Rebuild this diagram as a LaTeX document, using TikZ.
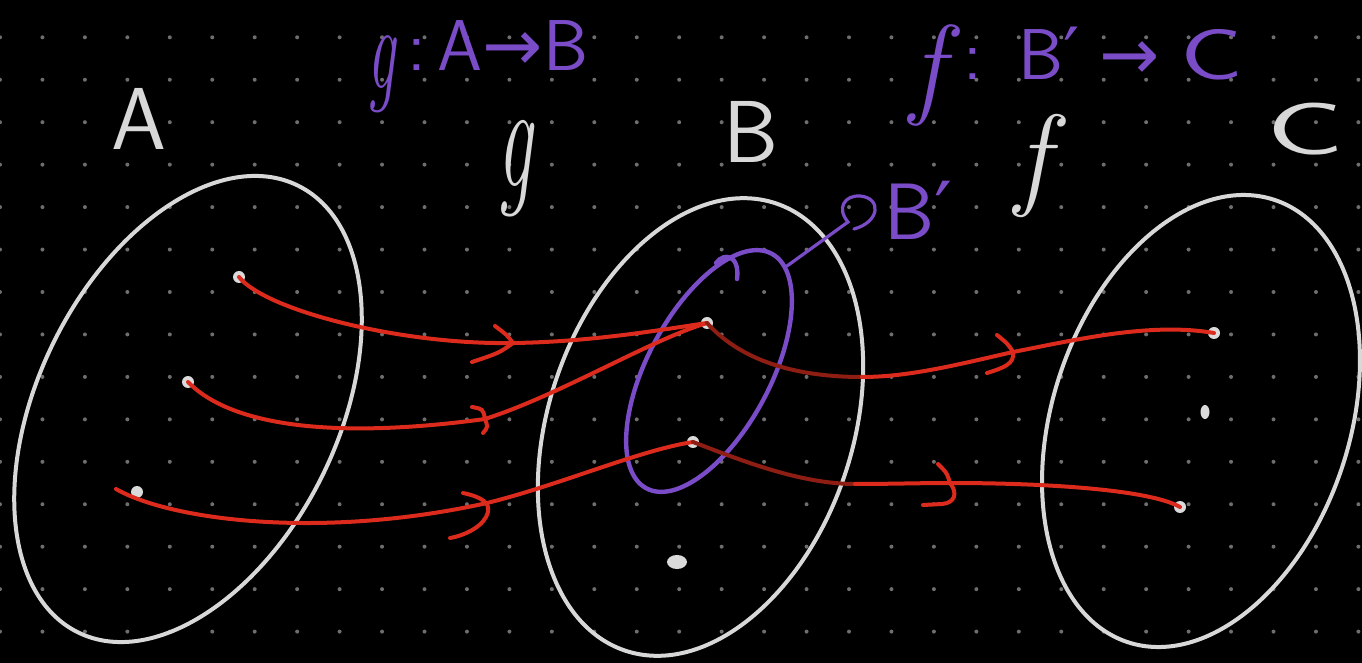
\documentclass[tikz,border=0pt]{standalone}
\usepackage{fontspec}
\usepackage{graphicx}
\newfontfamily\djv{DejaVu Sans}
\usetikzlibrary{shapes.geometric}
\definecolor{chalk}{HTML}{D8D8D8}
\definecolor{gridgray}{HTML}{6E6E6E}
\definecolor{inkred}{HTML}{DC2B1D}
\definecolor{darkred}{HTML}{8E1D13}
\definecolor{inkpurple}{HTML}{7B4CC8}
\definecolor{dotwhite}{HTML}{DADADA}
\begin{document}
\begin{tikzpicture}[x=0.5pt,y=-0.5pt,
  chalkline/.style={draw=chalk,line width=2pt},
  redline/.style={draw=inkred,line width=2pt,line cap=round,line join=round},
  darkline/.style={draw=darkred,line width=2pt,line cap=round},
  purpleline/.style={draw=inkpurple,line width=2.2pt,line cap=round},
  dot/.style={circle,fill=dotwhite,inner sep=0pt,minimum size=6pt},
  bigdot/.style={ellipse,fill=dotwhite,inner sep=0pt,minimum width=10pt,minimum height=7pt},
  lbl/.style={text=chalk,inner sep=0pt,outer sep=0pt,anchor=base west},
  plbl/.style={text=inkpurple,inner sep=0pt,outer sep=0pt,anchor=base west}]
\useasboundingbox (0,0) rectangle (1362,663);
\fill[black] (0,0) rectangle (1362,663);
\foreach \i in {0,...,32}{\foreach \j in {0,...,14}{\fill[gridgray] (42.45*\i,37.3+42.45*\j) circle[radius=2];}}

% set outlines
\draw[chalkline,rotate around={63.8:(188,409)}] (188,409) ellipse[x radius=249,y radius=150];
\draw[chalkline,rotate around={71.3:(700.5,427)}] (700.5,427) ellipse[x radius=236,y radius=152];
\draw[chalkline,rotate around={71.6:(1201,421)}] (1201,421) ellipse[x radius=233,y radius=148.5];

% subset B'
\draw[purpleline,rotate around={61.9:(709,371)}] (709,371) ellipse[x radius=133,y radius=61.5];
\draw[purpleline] (716,263) .. controls (724,252) and (740,255) .. (737,279);

% labels
\node[lbl,font={\fontsize{44}{44}\sffamily}] (labA) at (112,150) {A};
\node[lbl,font={\fontsize{44}{44}\sffamily}] (labB) at (723,163) {B};
\node[lbl,font={\fontsize{37}{37}\sffamily}] (labC) at (1266,155) {\scalebox{1.75}[1]{C}};
\node[lbl,font={\fontsize{60}{60}\itshape}] (labg) at (497,187) {\scalebox{0.65}[1.25]{g}};
\node[lbl,font={\fontsize{57}{57}\itshape}] (labf) at (1015,195) {f};
\node[plbl,font={\fontsize{36}{36}\sffamily}] (gmap) at (367,71)
  {{\fontsize{48}{48}\rmfamily\itshape\raisebox{-9pt}{\scalebox{0.65}[1.25]{g}}}\,:\,A{\djv →}B};
\node[plbl,font={\fontsize{36}{36}\sffamily}] (fmap) at (910,80)
  {{\fontsize{56}{56}\rmfamily\itshape\raisebox{-12pt}{f}}\;:\enspace B{\djv ′}\;{\djv →}\;\scalebox{1.45}[1]{C}};
\node[plbl,font={\fontsize{40}{40}\sffamily}] (bp) at (884,240) {B{\djv ′}};

% pointer to B'
\coordinate (bpstart) at (787,266);
\coordinate (bptip) at (848,222);
\draw[purpleline,line width=1.6pt] (bpstart) -- (bptip) .. controls (836,208) and (845,195) .. (860,196) .. controls (882,198) and (880,222) .. (854,229);

% elements
\node[dot] (a1) at (239,277) {};
\node[dot] (a2) at (188,382) {};
\node[dot] (a3) at (137,492) {};
\node[dot] (b1) at (707,323) {};
\node[dot] (b2) at (693,442) {};
\node[bigdot] (b3) at (677,562) {};
\node[dot] (c1) at (1214,333) {};
\node[ellipse,fill=dotwhite,inner sep=0pt,minimum width=4.5pt,minimum height=7pt] (c2) at (1205,412) {};
\node[dot] (c3) at (1180,507) {};

% mark points
\coordinate (m1) at (513,343);
\coordinate (m2) at (485,419);
\coordinate (m3) at (487,503);
\coordinate (m4) at (1013,352);
\coordinate (m5) at (950,483);
\coordinate (s3) at (116,489);
\coordinate (k4) at (862,377);
\coordinate (k5) at (855,484);

% g : A -> B
\draw[redline] (a1.center) .. controls (265,310) and (400,345) .. (m1) .. controls (590,342) and (660,330) .. (b1.center);
\draw[redline] (a2.center) .. controls (230,425) and (330,440) .. (m2) .. controls (560,395) and (650,340) .. (b1.center);
\draw[redline] (s3) .. controls (170,520) and (320,540) .. (m3) .. controls (560,485) and (640,450) .. (b2.center);
% f : B' -> C
\draw[darkline] (b1.center) .. controls (745,365) and (805,377) .. (k4);
\draw[redline] (k4) .. controls (910,377) and (960,364) .. (m4) .. controls (1075,340) and (1150,322) .. (c1.center);
\draw[darkline] (b2.center) .. controls (740,460) and (800,484) .. (k5);
\draw[redline] (k5) .. controls (890,484) and (920,483) .. (m5) .. controls (1050,483) and (1150,490) .. (c3.center);

% arrow marks
\draw[redline] ([shift={(-18,-17)}]m1) .. controls ([shift={(-6,-8)}]m1) .. (m1) .. controls ([shift={(-14,10)}]m1) .. ([shift={(-41,19)}]m1);
\draw[redline] ([shift={(-13,-12)}]m2) .. controls ([shift={(-2,-10)}]m2) .. (m2) .. controls ([shift={(3,8)}]m2) .. ([shift={(-2,14)}]m2);
\draw[redline] ([shift={(-24,-10)}]m3) .. controls ([shift={(-5,-6)}]m3) and ([shift={(3,0)}]m3) .. ([shift={(1,9)}]m3) .. controls ([shift={(-2,22)}]m3) and ([shift={(-20,32)}]m3) .. ([shift={(-37,35)}]m3);
\draw[redline] ([shift={(-16,-17)}]m4) .. controls ([shift={(-5,-8)}]m4) .. (m4) .. controls ([shift={(2,12)}]m4) and ([shift={(-10,16)}]m4) .. ([shift={(-26,21)}]m4);
\draw[redline] ([shift={(-12,-19)}]m5) .. controls ([shift={(-3,-10)}]m5) .. (m5) .. controls ([shift={(8,10)}]m5) and ([shift={(5,20)}]m5) .. ([shift={(-8,21)}]m5) -- ([shift={(-27,22)}]m5);
\end{tikzpicture}
\end{document}
